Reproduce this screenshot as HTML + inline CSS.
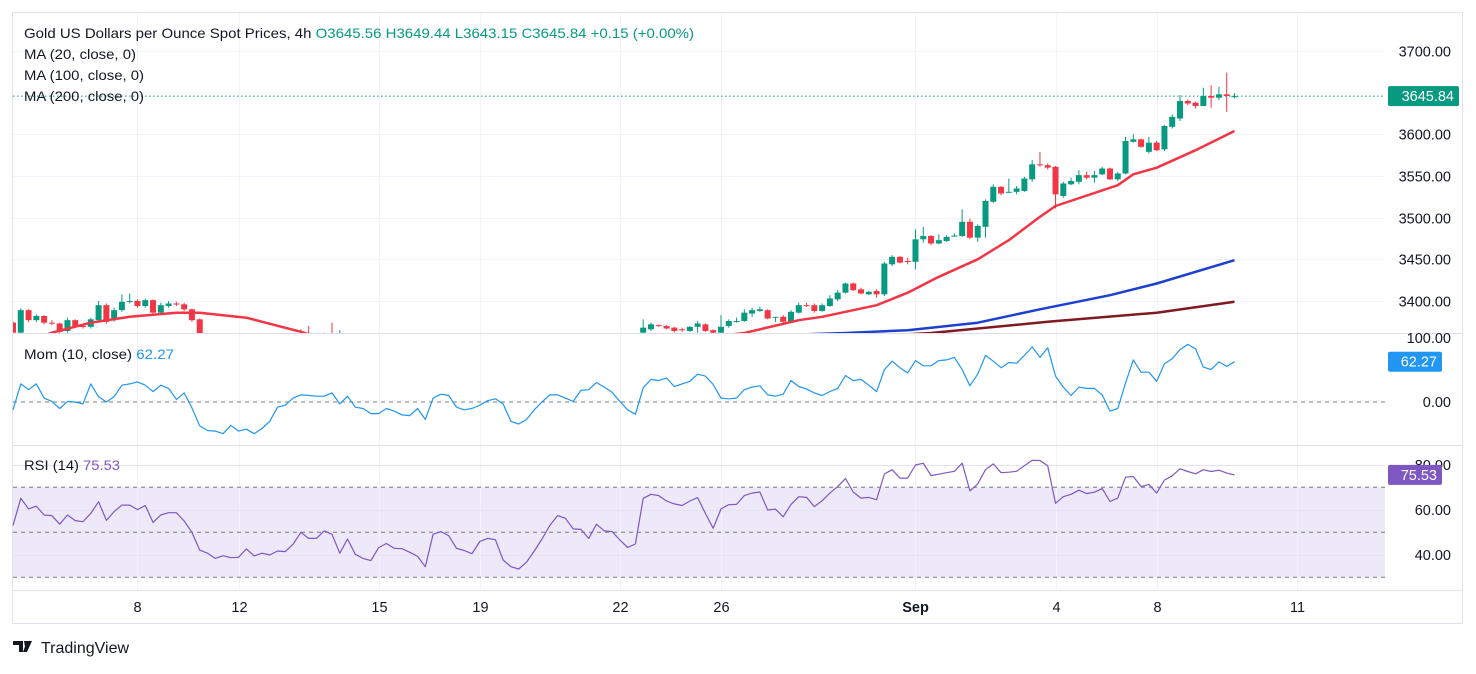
<!DOCTYPE html>
<html><head><meta charset="utf-8">
<style>
html,body{margin:0;padding:0;background:#fff;}
body{width:1476px;height:669px;overflow:hidden;font-family:"Liberation Sans",sans-serif;}
svg text{font-family:"Liberation Sans",sans-serif;}
</style></head>
<body>
<svg id="chart" width="1476" height="669" viewBox="0 0 1476 669" xmlns="http://www.w3.org/2000/svg">
  <rect x="12.5" y="12.5" width="1450" height="611" fill="#fff" stroke="#e0e3eb"/>
  <rect x="13" y="487.3" width="1372" height="90" fill="#ede9f8"/>
  <g id="grid"></g>
  <line x1="13" y1="333.5" x2="1462" y2="333.5" stroke="#dcdfe6"/>
  <line x1="13" y1="445.5" x2="1462" y2="445.5" stroke="#dcdfe6"/>
  <line x1="13" y1="590.5" x2="1462" y2="590.5" stroke="#e0e3eb"/>
  <g id="levels"></g>
  <g id="candles" clip-path="url(#mainclip)"></g>
  <g id="mas" clip-path="url(#mainclip)"></g>
  <g id="ind"></g>
  <defs><clipPath id="mainclip"><rect x="13" y="13" width="1372" height="320"/></clipPath></defs>
  <g id="axes"></g>
  <g font-size="14">
    <text x="24" y="38" fill="#131722" textLength="670" lengthAdjust="spacingAndGlyphs">Gold US Dollars per Ounce Spot Prices, 4h  <tspan fill="#089981">O3645.56 H3649.44 L3643.15 C3645.84 +0.15 (+0.00%)</tspan></text>
    <text x="24" y="59" fill="#131722" textLength="112" lengthAdjust="spacingAndGlyphs">MA (20, close, 0)</text>
    <text x="24" y="80" fill="#131722" textLength="120" lengthAdjust="spacingAndGlyphs">MA (100, close, 0)</text>
    <text x="24" y="101" fill="#131722" textLength="120" lengthAdjust="spacingAndGlyphs">MA (200, close, 0)</text>
    <text x="24" y="359" fill="#131722" textLength="150" lengthAdjust="spacingAndGlyphs">Mom (10, close)  <tspan fill="#2196f3">62.27</tspan></text>
    <text x="24" y="470" fill="#131722" textLength="96" lengthAdjust="spacingAndGlyphs">RSI (14)  <tspan fill="#7e57c2">75.53</tspan></text>
  </g>
  <g>
    <path d="M13 641h10v11h-4v-7h-6z M24 641h3l-2 6z M27 641h5l-5 11h-4z" fill="#131722"/>
    <text x="41" y="653" font-size="16" fill="#131722">TradingView</text>
  </g>
</svg>
<script>
// ---- data ----
const dateLabels = ["8","12","15","19","22","26","Sep","4","8","11"];
const dateBars = [16,29,47,60,78,91,116,134,147,165];
const opens = [3374,3362,3389,3377,3382,3374,3373,3364,3377,3370,3369,3377,3395,3377,3389,3399,3400,3394,3401,3386,3394,3397,3396,3390,3378,
3355,3350,3345,3340,3342,3338,3340,3337,3339,3341,3345,3348,3352,3355,3352,3350,3354,3350,3352,3345,3348,3342,3340,3338,3343,3345,3342,3340,3338,3336,3332,3345,3347,3344,3340,3338,3336,3341,3344,3343,3335,3330,3328,3331,3337,3343,3350,3355,3353,3348,3348,3345,3350,3348,3348,3345,
3362,3366,3371,3370,3368,3366,3364,3369,3372,3365,3362,3370,3375,3376,3385,3388,3389,3380,3381,3375,3386,3395,3395,3388,3394,3402,3410,3421,3414,3408,3412,3408,3444,3453,3448,3447,3474,3478,3469,3472,3478,3478,3495,3476,3489,3519,3537,3530,3531,3532,3546,3564,3563,3561,3526,3540,3543,3551,3548,3552,3559,3546,3553,3591,3594,3579,3590,3582,3609,3619,3640,3638,3634,3646,3644,3648,3645.56];
const closes = [3362,3389,3377,3382,3374,3373,3363,3377,3370,3369,3378,3395,3375,3389,3399,3400,3394,3401,3386,3395,3397,3396,3390,3377,3355,
3350,3345,3340,3342,3338,3340,3337,3339,3341,3345,3348,3352,3355,3352,3350,3354,3350,3352,3345,3348,3342,3340,3338,3343,3345,3342,3340,3338,3336,3332,3345,3347,3344,3340,3338,3336,3341,3344,3343,3335,3330,3328,3331,3337,3343,3350,3355,3353,3348,3348,3345,3350,3348,3348,3345,3358,
3368,3372,3370,3367,3364,3365,3369,3373,3364,3362,3369,3376,3376,3386,3389,3390,3379,3381,3375,3387,3395,3394,3388,3395,3403,3410,3421,3413,3409,3411,3408,3445,3453,3446,3447,3474,3478,3469,3473,3477,3478.5,3495,3476,3490,3520,3537,3529,3531,3535,3547,3564,3563.5,3560,3528,3541,3544,3551,3548,3551,3559,3546,3553,3592,3594,3585,3590,3581,3610,3621,3640,3637,3634,3646,3644,3648,3646,3645.84];
const highs = [3376,3391,3390,3384,3383,3377,3374,3380,3378,3372,3380,3400,3397,3392,3408,3409,3402,3403,3402,3398,3400,3399,3398,3391,3379,
3361,3352,3347,3344,3345,3342,3343,3340,3342,3346,3349,3353,3366,3370,3354,3362,3374,3365,3354,3350,3349,3344,3342,3345,3347,3346,3343,3341,3339,3337,3347,3349,3348,3345,3341,3339,3343,3346,3346,3344,3337,3332,3333,3339,3345,3352,3357,3357,3355,3350,3349,3352,3352,3350,3349,3360,
3378,3374,3372,3371,3369,3368,3370,3376,3373,3366,3383,3378,3380,3390,3392,3393,3390,3381,3383,3389,3398,3398,3397,3397,3407,3413,3422,3422,3416,3412,3414,3447,3455,3454,3452,3486,3489,3479,3480,3479,3481,3510,3499,3492,3522,3540,3538,3547,3538,3549,3569,3579,3565,3562,3543,3548,3557,3555,3556,3561,3560,3555,3597,3600,3595,3597,3592,3611,3624,3647,3642,3639,3656,3659,3657,3674,3649.44];
const lows = [3360,3360,3375,3375,3372,3371,3361,3362,3368,3367,3367,3375,3373,3375,3387,3397,3392,3392,3384,3384,3392,3394,3388,3375,3353,
3347,3342,3338,3339,3336,3336,3335,3336,3338,3340,3344,3347,3350,3350,3348,3349,3348,3349,3343,3344,3340,3338,3336,3337,3342,3340,3338,3336,3333,3330,3331,3344,3342,3338,3336,3334,3335,3340,3341,3333,3328,3326,3327,3330,3336,3342,3349,3351,3346,3346,3343,3344,3346,3346,3343,3344,
3361,3364,3369,3366,3362,3363,3363,3362,3363,3360,3361,3368,3374,3375,3381,3387,3378,3375,3373,3374,3385,3393,3386,3387,3393,3400,3409,3412,3408,3407,3404,3406,3442,3445,3444,3438,3470,3467,3468,3471,3477,3477,3474,3471,3476,3518,3527,3530,3528,3531,3543,3561,3558,3511,3524,3539,3540,3546,3542,3551,3545,3544,3552,3590,3584,3577,3580,3580,3607,3616,3635,3631,3634,3632,3641,3627,3643.15];
const ma20Bars = [2,5,10,15,21,24,30,37,45,60,74,94,101,104,111,115,119,124,128,132,134,142,144,147,152,157];
const ma20Vals = [3352,3362,3374,3381,3386,3386,3380,3363,3340,3320,3340,3361.6,3377,3381,3395,3410,3429,3450,3473,3501,3514,3539,3552,3560,3581,3604];
const ma100Bars = [95,107,115,124,132,141,147,157];
const ma100Vals = [3358,3361.6,3365,3374,3390,3407,3421,3449];
const ma200Bars = [105,118,133,147,157];
const ma200Vals = [3355,3361.6,3375,3386,3399];
const momVals = [-12,28,19,28,6,1,-10,1,0,-3,28,8,0,8,26,28,31,26,16,26,21,4,14,-9,-37,-44,-45,-49,-36,-45,-42,-49,-41,-30,-8,-5,6,11,10,9,9,14,-3,9,-8,-10,-18,-18,-10,-14,-20,-21,-10,-27,6,12,10,-8,-12,-10,-5,2,5,-3,-30,-34,-27,-12,0,11,11,6,1,18,19,30,23,15,1,-12,-19,22,35,33,37,24,28,32,43,40,27,6,5,6,
19,23,25,11,9,12,33,24,20,14,10,16,21,41,33,35,26,16,50,63,53,45,64,56,56,64,65,69,50,25,43,72,63,53,61,60,72,85,69,84,40,23,10,23,21,21,11,-14,-10,29,65,46,46,32,59,67,81,89,82,54,50,62,55,62.27];
const rsiVals = [53.0,65.1,60.4,61.6,57.7,57.4,53.6,57.7,55.2,54.7,58.4,63.6,55.3,59.2,62.1,62.1,60.1,61.9,54.4,57.7,58.7,58.7,55.0,50,42.1,40.7,38.4,39.6,38.7,38.9,42.6,39.5,40.7,39.9,41.7,41.4,44.7,50,47.3,47.3,50.6,49.1,40.7,47.0,40.2,38.4,37.4,43.2,45.0,42.9,42.7,41.1,39.3,34.7,49.1,50.3,48.5,42.9,41.9,40.5,45.9,47.3,46.7,37.7,34.7,33.7,36.7,41.7,47.0,53.0,57.4,56.2,51.5,51.3,47.3,53.6,50.6,50.3,46.6,43.3,44.8,65.1,66.9,66.3,63.9,62.6,61.9,63.9,65.4,58.4,51.8,60.4,62.3,62.4,
66.3,67.4,67.9,59.9,60.3,56.9,62.4,65.8,65.5,61.4,64.0,67.4,70.3,73.9,67.9,65.2,65.5,64.5,75.9,77.8,74.1,74.1,79.9,80.7,75.2,75.8,76.5,77.1,80.7,68.4,71.5,77.8,80.4,76.5,76.7,77.1,79.6,82.0,81.9,79.6,62.9,65.8,66.9,68.7,67.2,67.8,69.4,63.7,65.2,74.5,74.8,70.3,71.3,67.4,73.2,75.1,78.2,77.0,76.0,77.8,77.0,77.6,76.3,75.53];
const priceTicks = [3400,3450,3500,3550,3600,3700];
const momTicks = [0];
const rsiTicks = [40,60,80];
const lastPrice = 3645.84;

// ---- axes ----
const NS = "http://www.w3.org/2000/svg";
const xB = i => 13 + i*7.78;
const yP = p => 51 + (3700-p)*0.8333;
const yM = v => 402 - v*0.647;
const yR = v => 532.3 - (v-50)*2.25;
function mk(tag, attrs, parent){const e=document.createElementNS(NS,tag);for(const k in attrs)e.setAttribute(k,attrs[k]);parent.appendChild(e);return e;}
const grid=document.getElementById('grid'), axes=document.getElementById('axes');
const FS='14.5';

dateBars.forEach((b,k)=>{
  const x=Math.round(xB(b))+0.5;
  const gl=mk('line',{x1:x,y1:13,x2:x,y2:590,stroke:'#f0f3fa'},grid);
  
  
  const t=mk('text',{x:x,y:612,'text-anchor':'middle','font-size':FS,fill:'#131722','font-weight':dateLabels[k]==='Sep'?'bold':'normal'},axes);
  t.textContent=dateLabels[k];
  
  
});
priceTicks.forEach(p=>{
  const y=Math.round(yP(p))+0.5;
  const gl=mk('line',{x1:13,y1:y,x2:1385,y2:y,stroke:'#f0f3fa'},grid);
  
  
  const t=mk('text',{x:1451,y:y+5,'text-anchor':'end','font-size':FS,fill:'#131722'},axes);
  t.textContent=p.toFixed(2);
  
  
});
[{v:60},{v:40},{v:80}].forEach(o=>{
  const y=Math.round(yR(o.v))+0.5;
  const gl=mk('line',{x1:13,y1:y,x2:1385,y2:y,stroke:'#e6e2f0'},grid);
  
  
});
rsiTicks.forEach(v=>{
  const t=mk('text',{x:1451,y:yR(v)+5,'text-anchor':'end','font-size':FS,fill:'#131722'},axes);
  t.textContent=v.toFixed(2);
  
  
});
momTicks.forEach(v=>{
  const t=mk('text',{x:1451,y:yM(v)+5,'text-anchor':'end','font-size':FS,fill:'#131722'},axes);
  t.textContent=v.toFixed(2);
  
  
});
const t100=mk('text',{x:1451,y:343,'text-anchor':'end','font-size':FS,fill:'#131722'},axes);
t100.textContent='100.00';



// reference levels
const lv=document.getElementById('levels');
const dl=mk('line',{x1:13,y1:yP(lastPrice),x2:1385,y2:yP(lastPrice),stroke:'#089981','stroke-dasharray':'1.5 2.5'},lv);


const z=mk('line',{x1:13,y1:yM(0),x2:1385,y2:yM(0),stroke:'#787b86','stroke-dasharray':'4 4'},lv);


[70,50,30].forEach(v=>{
  const l=mk('line',{x1:13,y1:yR(v),x2:1385,y2:yR(v),stroke:'#787b86','stroke-dasharray':'4 4'},lv);
  
  
});

// candles
const cg=document.getElementById('candles');
closes.forEach((c,i)=>{
  const o=opens[i], up=c>=o, col=up?'#089981':'#f23645', x=xB(i);
  const w=mk('line',{x1:x,y1:yP(highs[i]),x2:x,y2:yP(lows[i]),stroke:col,'stroke-width':1},cg);
  
  
  const top=yP(Math.max(o,c)), bot=yP(Math.min(o,c));
  const b=mk('rect',{x:x-3,y:top,width:6,height:Math.max(1,bot-top),fill:col},cg);
  
  
});

// moving averages
const mg=document.getElementById('mas');
function poly(bars,vals,yf,col,w,parent,name){
  const pts=bars.map((b,k)=>xB(b).toFixed(1)+','+yf(vals[k]).toFixed(1)).join(' ');
  const p=mk('polyline',{points:pts,fill:'none',stroke:col,'stroke-width':w,'stroke-linejoin':'round'},parent);
  
  
}
poly(ma200Bars,ma200Vals,yP,'#801922',2.5,mg,'ma200-line');
poly(ma100Bars,ma100Vals,yP,'#1e40d0',2.5,mg,'ma100-line');
poly(ma20Bars,ma20Vals,yP,'#f23645',2.5,mg,'ma20-line');

const ig=document.getElementById('ind');
poly(momVals.map((v,i)=>i),momVals,yM,'#2196f3',1.2,ig,'momentum-line');
poly(rsiVals.map((v,i)=>i),rsiVals,yR,'#7e57c2',1.2,ig,'rsi-line');

// value badges
function badge(y,txt,col,name,w){
  const r=mk('rect',{x:1388,y:y-10,width:w,height:20,rx:2,fill:col},axes);
  
  
  const t=mk('text',{x:1388+w-5,y:y+5,'text-anchor':'end','font-size':FS,fill:'#fff'},axes);
  t.textContent=txt;
  
  
}
badge(yP(lastPrice),'3645.84','#089981','last-price-badge',71);
badge(yM(62.27),'62.27','#2196f3','mom-value-badge',54);
badge(yR(75.53),'75.53','#7e57c2','rsi-value-badge',54);
</script>
</body></html>
